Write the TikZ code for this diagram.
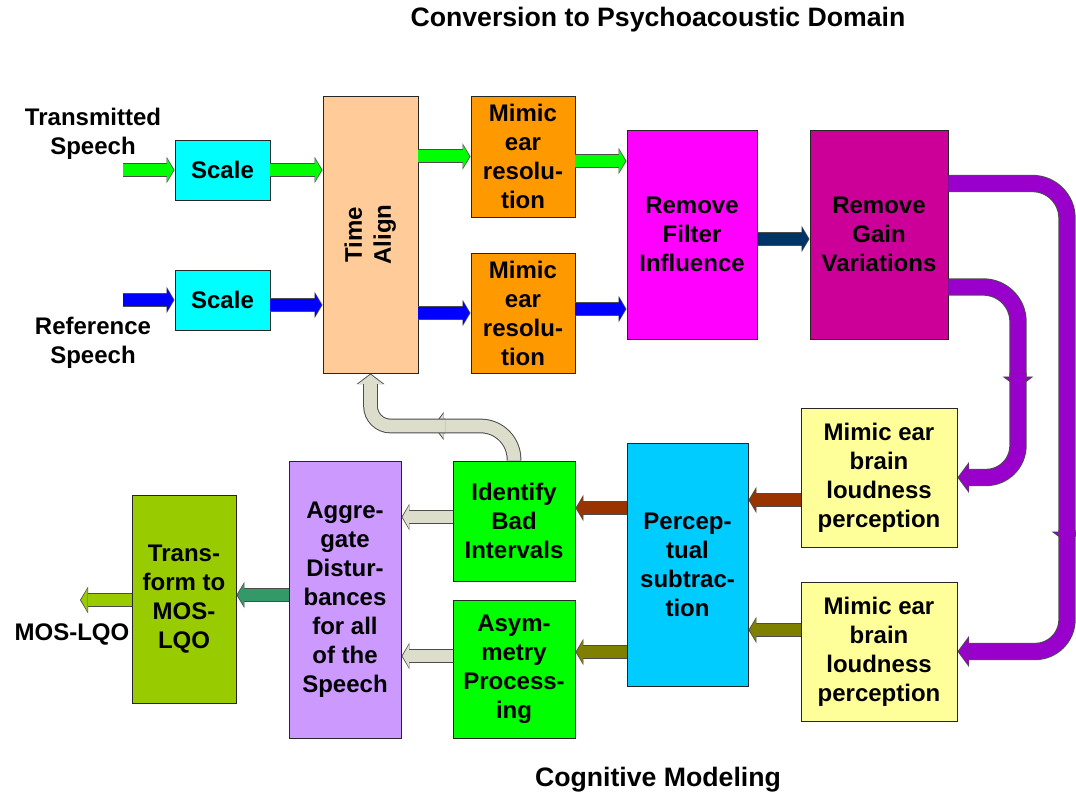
\documentclass[tikz,border=0pt]{standalone}
\usepackage{fontspec}
\setmainfont{Liberation Sans}
\usepackage{tikz}
\usetikzlibrary{arrows.meta}
\definecolor{cScale}{HTML}{00FFFF}
\definecolor{cAlign}{HTML}{FFCC99}
\definecolor{cMimic}{HTML}{FF9900}
\definecolor{cFilter}{HTML}{FF00FF}
\definecolor{cGain}{HTML}{CC0099}
\definecolor{cBrain}{HTML}{FFFF99}
\definecolor{cSubtr}{HTML}{00CCFF}
\definecolor{cGreen}{HTML}{00FF00}
\definecolor{cAggr}{HTML}{CC99FF}
\definecolor{cMos}{HTML}{99CC00}
\definecolor{aGreen}{HTML}{00FF00}
\definecolor{aBlue}{HTML}{0000FF}
\definecolor{aNavy}{HTML}{003366}
\definecolor{aPurple}{HTML}{9900CC}
\definecolor{aBrown}{HTML}{993300}
\definecolor{aOlive}{HTML}{808000}
\definecolor{aPale}{HTML}{DDDDCC}
\definecolor{aTeal}{HTML}{339966}
\newcommand{\boxfont}{\fontsize{18pt}{21.75pt}\selectfont\bfseries}
\tikzset{
  box/.style={draw=black!85, line width=0.7pt, align=center, inner sep=0pt, font=\boxfont},
  sz/.style 2 args={minimum width=#1*0.75pt, minimum height=#2*0.75pt},
  lbl/.style={align=center, font=\boxfont},
  ttl/.style={font=\fontsize{20pt}{24pt}\selectfont\bfseries},
  flow outer/.style={line width=10.5pt, draw=black!70, -{Triangle[length=6pt,width=20pt,line width=0pt]}},
  flow inner/.style={line width=9pt, shorten >=0.8pt, -{Triangle[length=5pt,width=17.5pt,line width=0pt]}},
  pipe outer/.style={line width=13pt, draw=black!70, -{Triangle[length=8.5pt,width=23pt,line width=0pt]}},
  pipe inner/.style={line width=11.5pt, shorten >=0.9pt, -{Triangle[length=7.5pt,width=20.5pt,line width=0pt]}},
  tube outer/.style={line width=11pt, draw=black!70, -{Triangle[length=8pt,width=21pt,line width=0pt]}},
  tube inner/.style={line width=9.5pt, shorten >=0.9pt, -{Triangle[length=7pt,width=18.5pt,line width=0pt]}},
}
% block arrow drawn twice: dark rim, then coloured body
\newcommand{\blockarrow}[4][]{%
  \draw[#2 outer,#1] #4;
  \draw[#2 inner,#1,draw=#3] #4;
}

\begin{document}
\begin{tikzpicture}[x=0.75pt,y=-0.75pt]
  \useasboundingbox (0,0) rectangle (1076,795);
  \node[ttl] (top) at (658,20) {Conversion to Psychoacoustic Domain};
  \node[ttl] (bottom) at (658,780) {Cognitive Modeling};

  \node[lbl] (txT) at (93,134) {Transmitted\\Speech};
  \node[lbl] (txR) at (93,343) {Reference\\Speech};
  \node[lbl] (txO) at (72,634) {MOS-LQO};
  \coordinate (inT) at (123,170);
  \coordinate (inR) at (123,300);
  \coordinate (out) at (80,600);

  \node[box, fill=cScale, sz={95}{60}] (scaleT) at (222.5,170) {Scale};
  \node[box, fill=cScale, sz={95}{60}] (scaleR) at (222.5,300) {Scale};
  \node[box, fill=cAlign, sz={95}{277}] (align) at (370.5,234.5)
    {\rotatebox{90}{\begin{tabular}{@{}c@{}}Time\\Align\end{tabular}}};
  \node[box, fill=cMimic, sz={104}{121}] (mimicT) at (523,156.5) {Mimic\\ear\\resolu-\\tion};
  \node[box, fill=cMimic, sz={104}{120}] (mimicR) at (523,313) {Mimic\\ear\\resolu-\\tion};
  \node[box, fill=cFilter, sz={130}{209}] (filter) at (692,234.5) {Remove\\Filter\\Influence};
  \node[box, fill=cGain, sz={138}{209}] (gain) at (879,234.5) {Remove\\Gain\\Variations};
  \node[box, fill=cBrain, sz={156}{139}] (brainT) at (879,477.5) {Mimic ear\\brain\\loudness\\perception};
  \node[box, fill=cBrain, sz={156}{139}] (brainR) at (879,651.5) {Mimic ear\\brain\\loudness\\perception};
  \node[box, fill=cSubtr, sz={121}{243}] (subtr) at (687.5,564.5) {Percep-\\tual\\subtrac-\\tion};
  \node[box, fill=cGreen, sz={122}{120}] (bad) at (514,521) {Identify\\Bad\\Intervals};
  \node[box, fill=cGreen, sz={122}{138}] (asym) at (514,669) {Asym-\\metry\\Process-\\ing};
  \node[box, fill=cAggr, sz={112}{277}] (aggr) at (345,599.5) {Aggre-\\gate\\Distur-\\bances\\for all\\of the\\Speech};
  \node[box, fill=cMos, sz={104}{208}] (mos) at (184,599) {Trans-\\form to\\MOS-\\LQO};

  % straight flows
  \blockarrow{flow}{aGreen}{(inT) -- (scaleT.west)}
  \blockarrow{flow}{aGreen}{(scaleT.east) -- (scaleT.east -| align.west)}
  \blockarrow{flow}{aBlue}{(inR) -- (scaleR.west)}
  \blockarrow{flow}{aBlue}{(scaleR.east |- 0,305) -- (align.west |- 0,305)}
  \blockarrow{flow}{aGreen}{(align.east |- mimicT.west) -- (mimicT.west)}
  \blockarrow{flow}{aBlue}{(align.east |- mimicR.west) -- (mimicR.west)}
  \blockarrow{flow}{aGreen}{(mimicT.east |- 0,161) -- (filter.west |- 0,161)}
  \blockarrow{flow}{aBlue}{(mimicR.east |- 0,309) -- (filter.west |- 0,309)}
  \blockarrow{flow}{aNavy}{(filter.east |- 0,239) -- (gain.west |- 0,239)}
  \blockarrow{flow}{aBrown}{(brainT.west |- 0,500) -- (subtr.east |- 0,500)}
  \blockarrow{flow}{aOlive}{(brainR.west |- 0,630) -- (subtr.east |- 0,630)}
  \blockarrow{flow}{aBrown}{(subtr.west |- 0,508) -- (bad.east |- 0,508)}
  \blockarrow{flow}{aOlive}{(subtr.west |- 0,652) -- (asym.east |- 0,652)}
  \blockarrow{flow}{aPale}{(bad.west |- 0,517) -- (aggr.east |- 0,517)}
  \blockarrow{flow}{aPale}{(asym.west |- 0,656) -- (aggr.east |- 0,656)}
  \blockarrow{flow}{aTeal}{(aggr.west |- 0,595) -- (mos.east |- 0,595)}
  \blockarrow{flow}{cMos}{(mos.west |- 0,600) -- (out)}

  % bent pipes
  \blockarrow[rounded corners=26pt]{pipe}{aPurple}{(gain.east |- 0,287) -| (1018,388)}
  \blockarrow[rounded corners=24pt]{pipe}{aPurple}{(1018,373) |- (brainT.east)}
  \blockarrow[rounded corners=26pt]{pipe}{aPurple}{(gain.east |- 0,183.5) -| (1067,543)}
  \blockarrow[rounded corners=24pt]{pipe}{aPurple}{(1067,530) |- (brainR.east)}
  \blockarrow[rounded corners=25pt]{tube}{aPale}{(bad.north) |- (433,426)}
  \blockarrow[rounded corners=15pt]{tube}{aPale}{(445,426) -| (align.south)}
\end{tikzpicture}
\end{document}
